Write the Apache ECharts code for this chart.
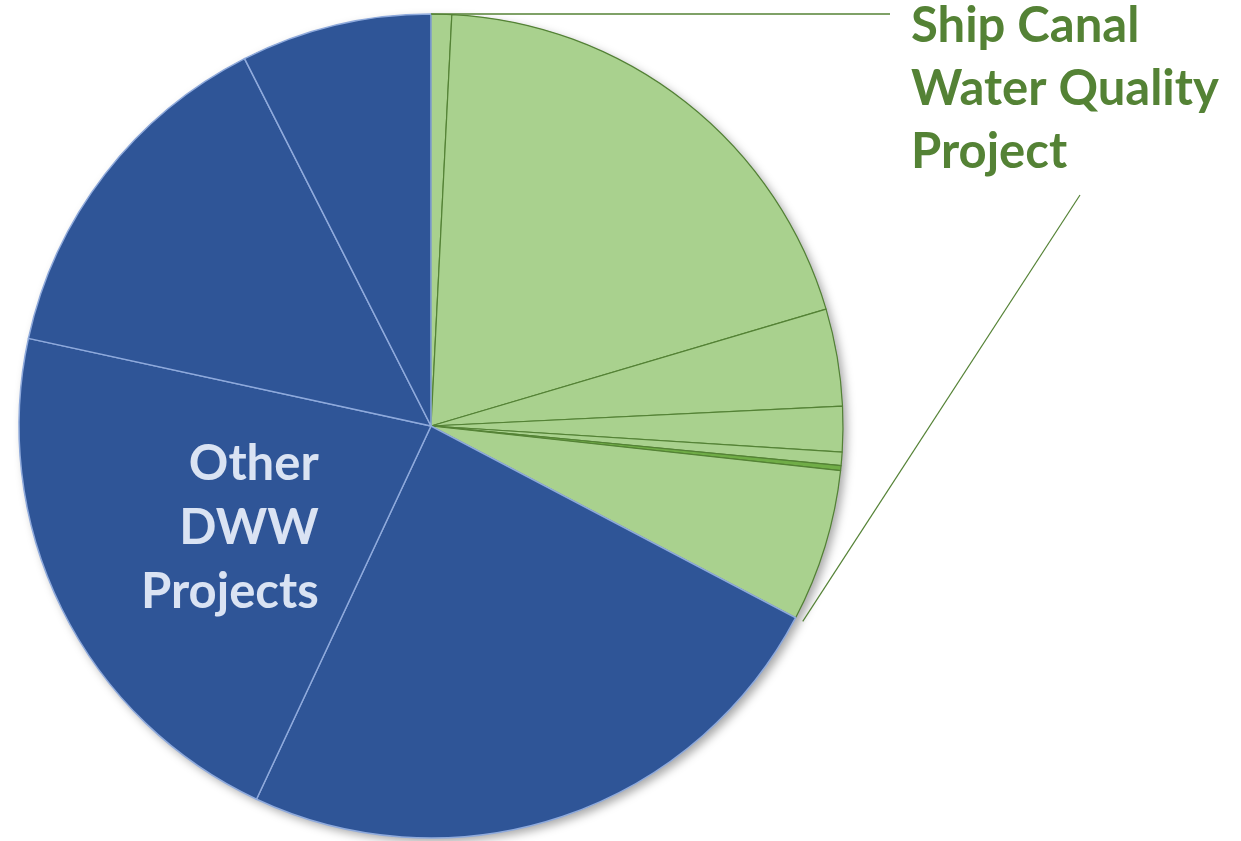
<!DOCTYPE html>
<html>
<head>
<meta charset="utf-8">
<script src="https://cdn.jsdelivr.net/npm/echarts@6/dist/echarts.min.js"></script>
<style>
html,body{margin:0;padding:0;background:#fff;}
#chart{width:1241px;height:841px;}
</style>
</head>
<body>
<div id="chart"></div>
<script>
// Slice values (share of total, read as degrees of the circle), clockwise from 12 o'clock
const greenNames = ['Ship Canal WQP 1','Ship Canal WQP 2','Ship Canal WQP 3','Ship Canal WQP 4','Ship Canal WQP 5','Ship Canal WQP 6','Ship Canal WQP 7'];
const greenValues = [2.9, 70.6, 13.7, 6.4, 1.9, 0.7, 21.5];
const blueNames = ['Other DWW 1','Other DWW Projects','Other DWW 3','Other DWW 4'];
const blueValues = [87.3, 77.2, 50.8, 26.9];
const greenLabel = 'Ship Canal\nWater Quality\nProject';
const blueLabel = ['Other','DWW','Projects'];

const CX = 431, CY = 426, R = 412;
const GREEN_FILL = '#A9D18E', GREEN_DARK = '#548235', GREEN_MID = '#70AD47';
const BLUE_FILL = '#2F5597', BLUE_LINE = '#8FAADC', BLUE_TEXT = '#DAE3F3';

const data = [];
greenNames.forEach((n, i) => {
  data.push({
    name: n, value: greenValues[i],
    itemStyle: { color: i === 5 ? GREEN_MID : GREEN_FILL, borderColor: GREEN_DARK, borderWidth: 1.2 },
    label: { show: false }
  });
});
blueNames.forEach((n, i) => {
  const d = {
    name: n, value: blueValues[i],
    itemStyle: { color: BLUE_FILL, borderColor: BLUE_LINE, borderWidth: 1.5 },
    label: { show: false }
  };
  if (i === 1) {
    d.label = {
      show: true, position: 'inside',
      formatter: blueLabel.map(t => '{a|' + t + '}').join('\n'),
      padding: [18, 40, 0, 0],
      rich: { a: { width: 190, align: 'right', fontSize: 49, lineHeight: 64, fontWeight: 'bold', color: BLUE_TEXT, fontFamily: 'Lato' } }
    };
  }
  data.push(d);
});

const total = greenValues.reduce((a, b) => a + b, 0) + blueValues.reduce((a, b) => a + b, 0);
const greenEnd = greenValues.reduce((a, b) => a + b, 0) / total * 2 * Math.PI;
function pt(angle, r) { return [CX + r * Math.sin(angle), CY - r * Math.cos(angle)]; }
const p0 = pt(0, R);
const p1 = pt(greenEnd, R + 8);

const chart = echarts.init(document.getElementById('chart'), null, { renderer: 'canvas' });
chart.setOption({
  backgroundColor: '#fff',
  animation: false,
  series: [
    {
      type: 'pie', silent: true, z: 1,
      center: [CX, CY], radius: R,
      label: { show: false }, labelLine: { show: false },
      data: [{ value: 1, itemStyle: { color: BLUE_FILL, shadowBlur: 10, shadowOffsetX: 4, shadowOffsetY: 4, shadowColor: 'rgba(0,0,0,0.35)' } }]
    },
    {
      type: 'pie', z: 2,
      center: [CX, CY], radius: R,
      startAngle: 90, clockwise: true,
      avoidLabelOverlap: false,
      labelLine: { show: false },
      data: data
    }
  ],
  graphic: [
    { type: 'line', z: 100, shape: { x1: p0[0], y1: p0[1], x2: 890, y2: p0[1] }, style: { stroke: GREEN_DARK, lineWidth: 1.5 } },
    { type: 'line', z: 100, shape: { x1: p1[0], y1: p1[1], x2: 1080, y2: 195 }, style: { stroke: GREEN_DARK, lineWidth: 1.2 } },
    { type: 'text', z: 100, left: 911, top: -5,
      style: { text: greenLabel, fill: GREEN_DARK, font: 'bold 49px Lato', lineHeight: 63 } }
  ]
});
</script>
</body>
</html>
